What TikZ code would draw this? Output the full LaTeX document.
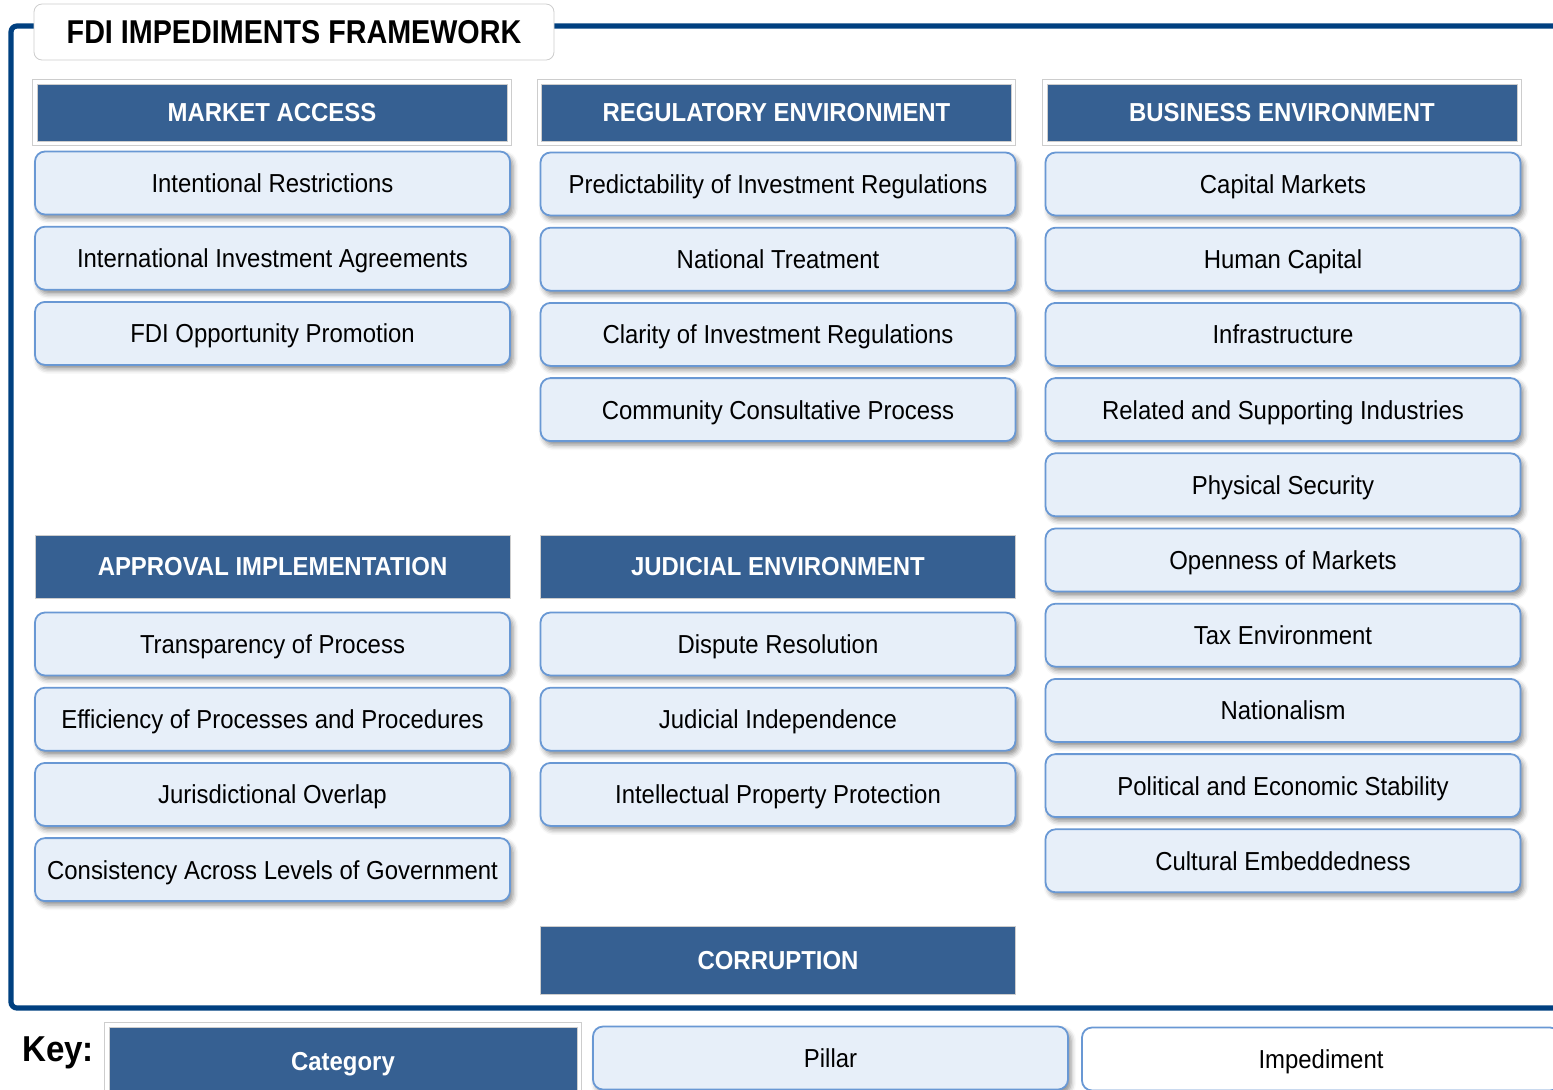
\documentclass[tikz,border=0pt]{standalone}
\usepackage{fontspec}
\setmainfont{Liberation Sans}
\newfontfamily\narrowsans[FakeStretch=0.92]{Liberation Sans}
\newfontfamily\titlesans[FakeStretch=0.87]{Liberation Sans}
\usepackage{xcolor}
\usetikzlibrary{calc}
\usetikzlibrary{shadows.blur}
\definecolor{framecol}{RGB}{0,64,128}
\definecolor{catfill}{RGB}{54,96,146}
\definecolor{pillfill}{RGB}{231,239,249}
\definecolor{pillline}{RGB}{105,152,212}
\definecolor{edgegray}{RGB}{205,205,205}

\begin{document}
\begin{tikzpicture}[x=0.5pt, y=-0.5pt]
              \tikzset{category/.style={fill=catfill, draw=edgegray, line width=0.4pt, inner sep=0pt,
                         minimum width=237.5pt, minimum height=31.5pt, text=white,
                         text height=9.4pt, text depth=0pt,
                         font=\narrowsans\fontsize{13}{15}\selectfont\bfseries}}
              \tikzset{pillar/.style={fill=pillfill, draw=pillline, line width=0.9pt, rounded corners=5pt,
                         inner sep=0pt, minimum width=237.5pt, minimum height=31.5pt,
                         text height=9.4pt, text depth=0pt,
                         blur shadow={shadow xshift=1.5pt, shadow yshift=-2pt, shadow blur radius=2.5pt, shadow opacity=45},
                         font=\narrowsans\fontsize{13}{15}\selectfont}}

              \def\pitch{75.2}
              \useasboundingbox (0,0) rectangle (1553,1089);

              % outer frame
              \draw[framecol, line width=2.6pt, rounded corners=3pt] (1553,26) -- (11,26) -- (11,1008) -- (1553,1008);
              \node[fill=white, draw=edgegray, rounded corners=4pt, minimum width=260pt, minimum height=28pt,
                    font=\titlesans\fontsize{16.5}{18}\selectfont\bfseries] (title) at (294,32) {FDI IMPEDIMENTS FRAMEWORK};

              % categories
              \node[category, minimum width=235pt, minimum height=28.5pt] (ma) at (272,112.5) {MARKET ACCESS};
              \node[category, minimum width=235pt, minimum height=28.5pt] (re) at (776.5,112.5) {REGULATORY ENVIRONMENT};
              \node[category, minimum width=235pt, minimum height=28.5pt] (be) at (1282,112.5) {BUSINESS ENVIRONMENT};
              \node[category] (ai) at (272.5,566.5) {APPROVAL IMPLEMENTATION};
              \node[category] (je) at (778,566.5) {JUDICIAL ENVIRONMENT};
              \node[category, minimum height=34pt] (co) at (778,960) {CORRUPTION};

              % pillars
              \foreach \t [count=\i from 0] in {Intentional Restrictions, International Investment Agreements, FDI Opportunity Promotion}
                \node[pillar] (ma\i) at (272.5,183+\pitch*\i) {\t};
              \foreach \t [count=\i from 0] in {Predictability of Investment Regulations, National Treatment,
                         Clarity of Investment Regulations, Community Consultative Process}
                \node[pillar] (re\i) at (778,184+\pitch*\i) {\t};
              \foreach \t [count=\i from 0] in {Capital Markets, Human Capital, Infrastructure, Related and Supporting Industries,
                         Physical Security, Openness of Markets, Tax Environment, Nationalism,
                         Political and Economic Stability, Cultural Embeddedness}
                \node[pillar] (be\i) at (1283,184+\pitch*\i) {\t};
              \foreach \t [count=\i from 0] in {Transparency of Process, Efficiency of Processes and Procedures,
                         Jurisdictional Overlap, Consistency Across Levels of Government}
                \node[pillar] (ai\i) at (272.5,644+\pitch*\i) {\t};
              \foreach \t [count=\i from 0] in {Dispute Resolution, Judicial Independence, Intellectual Property Protection}
                \node[pillar] (je\i) at (778,644+\pitch*\i) {\t};

              % key
              \node[font=\narrowsans\fontsize{18}{20}\selectfont\bfseries] (key) at (58,1053) {Key:};
              \node[category, minimum width=234pt, minimum height=34pt] (kc) at (343,1061) {Category};
              \node[pillar] (kp) at (830.5,1058) {Pillar};
              \node[pillar, fill=white, blur shadow={shadow opacity=0}, minimum width=239pt] (ki) at (1321,1059) {Impediment};

              \foreach \n in {ma,re,be,kc}
                \draw[edgegray, line width=0.5pt] ($(\n.north west)+(-4,-4)$) rectangle ($(\n.south east)+(4,4)$);
            \end{tikzpicture}
\end{document}
